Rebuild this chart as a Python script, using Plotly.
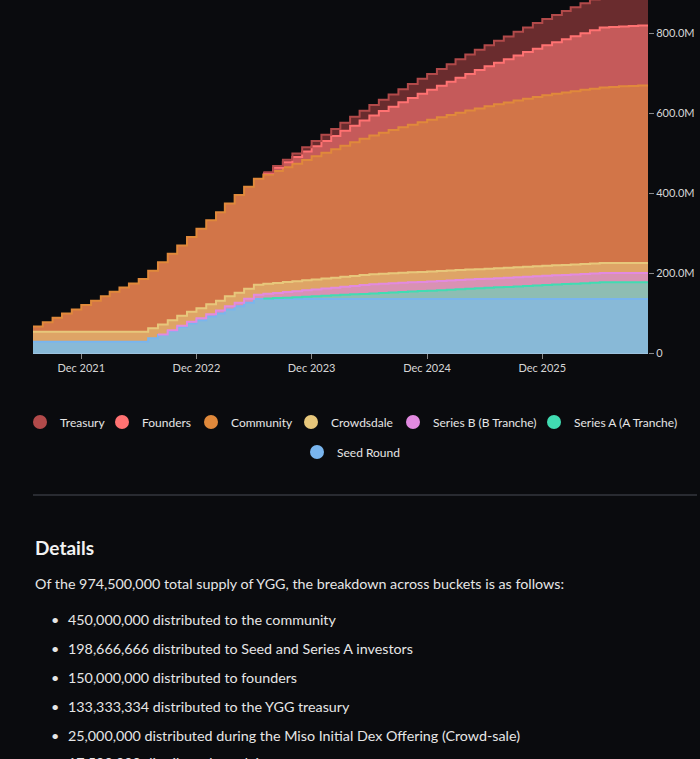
import numpy as np
import pandas as pd
import plotly.graph_objects as go

# YGG unlock schedule, monthly snapshots Jul 2021 -> Nov 2026 (millions of tokens)
months = pd.date_range("2021-07-01", "2026-11-01", freq="MS")

seed_round = [
    28, 28, 28, 28, 28, 28, 28, 28, 28, 28, 28, 28,
    37, 45, 55, 65, 74, 82, 91, 99, 109, 117, 126, 135,
    135, 135, 135, 135, 135, 135, 135, 135, 135, 135, 135, 135,
    135, 135, 135, 135, 135, 135, 135, 135, 135, 135, 135, 135,
    135, 135, 135, 135, 135, 135, 135, 135, 135, 135, 135, 135,
    135, 135, 135, 135, 135,
]
series_a = [
    0, 0, 0, 0, 0, 0, 0, 0, 0, 0, 0, 0,
    0, 0, 0, 0, 0, 0, 0, 0, 0, 0, 0, 0,
    1.2, 2.3, 3.5, 4.7, 5.8, 7, 8.2, 9.3, 10.5, 11.7, 12.8, 14,
    15.2, 16.3, 17.5, 18.7, 19.8, 21, 22.2, 23.3, 24.5, 25.7, 26.8, 28,
    29.2, 30.3, 31.5, 32.7, 33.8, 35, 36.2, 37.3, 38.5, 39.7, 40.8, 42,
    42, 42, 42, 42, 42,
]
series_b = [
    0, 0, 0, 0, 0, 0, 0, 0, 0, 0, 0, 0,
    0, 1, 2, 3, 4, 5, 6, 7, 8, 9, 10, 11,
    12, 13, 14, 15, 16, 17, 18, 19, 20, 21, 22, 23,
    23, 23, 23, 23, 23, 23, 23, 23, 23, 23, 23, 23,
    23, 23, 23, 23, 23, 23, 23, 23, 23, 23, 23, 23,
    23, 23, 23, 23, 23,
]
crowdsale = [
    25, 25, 25, 25, 25, 25, 25, 25, 25, 25, 25, 25,
    25, 25, 25, 25, 25, 25, 25, 25, 25, 25, 25, 25,
    25, 25, 25, 25, 25, 25, 25, 25, 25, 25, 25, 25,
    25, 25, 25, 25, 25, 25, 25, 25, 25, 25, 25, 25,
    25, 25, 25, 25, 25, 25, 25, 25, 25, 25, 25, 25,
    25, 25, 25, 25, 25,
]
community = [
    13, 24, 35, 46, 56, 67, 78, 89, 100, 111, 121, 132,
    144, 156, 166, 176, 187, 199, 210, 221, 232, 244, 255, 265,
    273, 280, 287, 294, 301, 308, 315, 321.5, 328, 334.5, 341, 347,
    353, 358.5, 364, 369.5, 374.5, 379.5, 384.5, 389, 393.5, 398, 402, 406,
    410, 413.5, 417, 420.5, 423.5, 426.5, 429, 431.5, 433.5, 435.5, 437.5, 439,
    440.5, 442, 443, 444, 445,
]
founders = [
    0, 0, 0, 0, 0, 0, 0, 0, 0, 0, 0, 0,
    0, 0, 0, 0, 0, 0, 0, 0, 0, 0, 0, 0,
    4, 8, 12.5, 16.5, 21, 25, 29, 33, 37.5, 41.5, 46, 50,
    54, 58, 62.5, 66.5, 71, 75, 79, 83, 87.5, 91.5, 96, 100,
    104, 108, 112.5, 116.5, 121, 125, 129, 133, 137.5, 141.5, 146, 150,
    150, 150, 150, 150, 150,
]
treasury = [
    0, 0, 0, 0, 0, 0, 0, 0, 0, 0, 0, 0,
    0, 0, 0, 0, 0, 0, 0, 0, 0, 0, 0, 0,
    2, 4.5, 6.5, 9, 11, 13, 15.5, 17.5, 20, 22, 24, 26.5,
    28.5, 31, 33, 35, 37.5, 39.5, 42, 44, 46, 48.5, 50.5, 53,
    55, 57, 59.5, 61.5, 64, 66, 68, 70.5, 72.5, 75, 77, 79,
    81.5, 83.5, 86, 88, 90,
]

tick_dates = ["2021-12-01", "2022-12-01", "2023-12-01", "2024-12-01", "2025-12-01"]
tick_labels = ["Dec 2021", "Dec 2022", "Dec 2023", "Dec 2024", "Dec 2025"]
y_ticks = [0, 200, 400, 600, 800]
y_labels = ["0", "200.0M", "400.0M", "600.0M", "800.0M"]

details_intro = "Of the 974,500,000 total supply of YGG, the breakdown across buckets is as follows:"
details_items = [
    "450,000,000 distributed to the community",
    "198,666,666 distributed to Seed and Series A investors",
    "150,000,000 distributed to founders",
    "133,333,334 distributed to the YGG treasury",
    "25,000,000 distributed during the Miso Initial Dex Offering (Crowd-sale)",
    "17,500,000 distributed to advisors",
]

# bottom -> top of the stack: (name, values, line colour, fill colour)
buckets = [
    ("Seed Round", seed_round, "#79b5ee", "#88b9d7"),
    ("Series A (A Tranche)", series_a, "#41dcb2", "#8ebdb3"),
    ("Series B (B Tranche)", series_b, "#e28ae0", "#d991b3"),
    ("Crowdsdale", crowdsale, "#e7c77b", "#dea466"),
    ("Community", community, "#e0893b", "#d27548"),
    ("Founders", founders, "#ff7272", "#c55a5a"),
    ("Treasury", treasury, "#b24a4a", "#6a2c2e"),
]

# legend dot centres in page pixels (html legend wraps like flexbox, centred)
legend_slots = {
    "Treasury": (43, 422),
    "Founders": (125, 422),
    "Community": (214, 422),
    "Crowdsdale": (314, 422),
    "Series B (B Tranche)": (416, 422),
    "Series A (A Tranche)": (557, 422),
    "Seed Round": (320, 452),
}

# vertical centres of the bullet rows (last one runs off the page)
bullet_rows = [619, 648, 677, 706, 735, 762]

BG = "#0a0b0e"
TEXT = "#e6e6e6"
FONT = "Lato, sans-serif"
W, H = 700, 759

# plot area in pixels (used to place the text block under the chart)
PLOT_L, PLOT_W, PLOT_B = 33, 615, 353


def px_x(p):
    return (p - PLOT_L) / PLOT_W


def px_y(p):
    return (PLOT_B - p) / PLOT_B


fig = go.Figure()

# filled bands
for name, vals, line_c, fill_c in buckets:
    fig.add_trace(go.Scatter(
        x=months, y=vals,
        stackgroup="supply",
        mode="lines",
        line={"width": 0, "shape": "hv"},
        fillcolor=fill_c,
        name=name,
        showlegend=False,
        hoverinfo="skip",
    ))

# outline on top of each band, only where the bucket has started unlocking
tops = np.cumsum(np.array([b[1] for b in buckets], dtype=float), axis=0)
for i, (name, vals, line_c, fill_c) in enumerate(buckets):
    active = np.array(vals, dtype=float) > 0
    fig.add_trace(go.Scatter(
        x=months,
        y=np.where(active, tops[i], None),
        mode="lines",
        line={"color": line_c, "width": 2, "shape": "hv"},
        name=name,
        showlegend=False,
        connectgaps=False,
    ))

# one legend per entry so the row spacing follows the text widths
legend_layout = {}
for k, (name, vals, line_c, fill_c) in enumerate(reversed(buckets)):
    legend_id = "legend" if k == 0 else f"legend{k + 1}"
    fig.add_trace(go.Scatter(
        x=[None], y=[None],
        mode="markers",
        marker={"size": 14, "color": line_c},
        name=name,
        legend=legend_id,
    ))
    cx, cy = legend_slots[name]
    legend_layout[legend_id] = {
        "orientation": "h",
        "xref": "container",
        "yref": "container",
        "x": (cx - 23) / W,
        "y": (H - cy) / H,
        "xanchor": "left",
        "yanchor": "middle",
        "font": {"family": FONT, "size": 12, "color": TEXT},
        "bgcolor": "rgba(0,0,0,0)",
    }

fig.update_layout(
    width=W,
    height=H,
    margin={"l": 33, "r": 52, "t": 0, "b": 406},
    paper_bgcolor=BG,
    plot_bgcolor=BG,
    font={"family": FONT, "color": TEXT, "size": 12},
    xaxis={
        "type": "date",
        "range": [months[0], months[-1]],
        "tickvals": tick_dates,
        "ticktext": tick_labels,
        "ticks": "outside",
        "ticklen": 5,
        "tickcolor": "#8a8a8a",
        "showgrid": False,
        "zeroline": False,
        "showline": True,
        "linecolor": "#9cc3df",
        "linewidth": 1,
        "tickfont": {"size": 11, "color": "#d6d6d6"},
    },
    yaxis={
        "side": "right",
        "range": [0, 883],
        "tickvals": y_ticks,
        "ticktext": y_labels,
        "ticks": "outside",
        "ticklen": 5,
        "tickcolor": "#8a8a8a",
        "showgrid": False,
        "zeroline": False,
        "tickfont": {"size": 11, "color": "#d6d6d6"},
    },
    **legend_layout,
)

# divider between chart and details
fig.add_shape(
    type="line", xref="paper", yref="paper",
    x0=0, x1=px_x(697), y0=px_y(495), y1=px_y(495),
    line={"color": "#34373e", "width": 1.5},
)

fig.add_annotation(
    text="<b>Details</b>", xref="paper", yref="paper",
    x=px_x(33), y=px_y(547), xanchor="left", yanchor="middle",
    showarrow=False, font={"family": FONT, "size": 19, "color": "#f2f2f2"},
)
fig.add_annotation(
    text=details_intro, xref="paper", yref="paper",
    x=px_x(33), y=px_y(583), xanchor="left", yanchor="middle",
    showarrow=False, font={"family": FONT, "size": 14.3, "color": TEXT},
)
for row, item in zip(bullet_rows, details_items):
    fig.add_annotation(
        text="•", xref="paper", yref="paper",
        x=px_x(55), y=px_y(row), xanchor="center", yanchor="middle",
        showarrow=False, font={"family": FONT, "size": 14.3, "color": TEXT},
    )
    fig.add_annotation(
        text=item, xref="paper", yref="paper",
        x=px_x(66), y=px_y(row), xanchor="left", yanchor="middle",
        showarrow=False, font={"family": FONT, "size": 14.3, "color": TEXT},
    )

# page has no body margin in the reference
fig.write_html(
    "out.html",
    config={"displayModeBar": False},
    post_script="document.body.style.margin='0px';",
)
